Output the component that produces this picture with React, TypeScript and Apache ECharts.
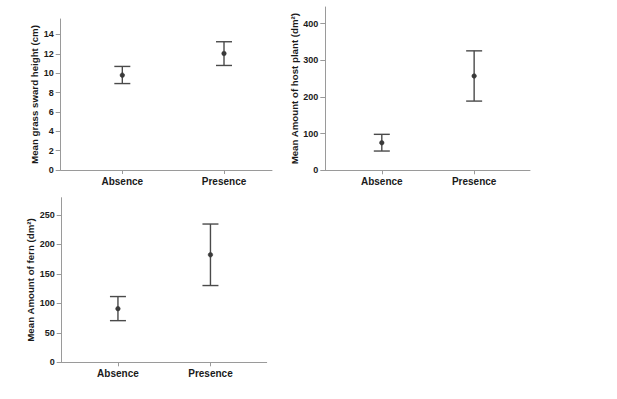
import React, { useEffect, useRef } from "react";
import * as echarts from "echarts";

const categories = ["Absence", "Presence"];

// Panel 1: grass sward height (cm)
const grassMean = [9.8, 12.04];
const grassLow = [8.93, 10.8];
const grassHigh = [10.7, 13.25];
const grassTicks = [0, 2, 4, 6, 8, 10, 12, 14];

// Panel 2: host plant (dm²)
const hostMean = [75, 257];
const hostLow = [52.5, 188.6];
const hostHigh = [98, 325.5];
const hostTicks = [0, 100, 200, 300, 400];

// Panel 3: fern (dm²)
const fernMean = [91, 182.5];
const fernLow = [70.7, 130.3];
const fernHigh = [111.6, 234.7];
const fernTicks = [0, 50, 100, 150, 200, 250];

const FONT = "'Liberation Sans', Arial, sans-serif";
const TEXT = "#1a1a1a";
const AXIS = "#9a9a9a";
const BAR = "#4a4a4a";

export default function App() {
  const ref = useRef<HTMLDivElement>(null);

  useEffect(() => {
    if (!ref.current) return;
    const chart = echarts.init(ref.current, undefined, { renderer: "svg" });

    const panels = [
      { grid: { left: 60.7, top: 19, width: 211.3, height: 151 }, xMin: 0.394, xMax: 2.472, yMax: 15.6, ticks: grassTicks, name: "Mean grass sward height (cm)", nameGap: 20, mean: grassMean, low: grassLow, high: grassHigh },
      { grid: { left: 325.3, top: 7, width: 204.7, height: 163.3 }, xMin: 0.388, xMax: 2.605, yMax: 445, ticks: hostTicks, name: "Mean Amount of host plant (dm²)", nameGap: 23, mean: hostMean, low: hostLow, high: hostHigh },
      { grid: { left: 61.7, top: 197.7, width: 205, height: 164.6 }, xMin: 0.392, xMax: 2.608, yMax: 279.4, ticks: fernTicks, name: "Mean Amount of fern (dm²)", nameGap: 22.5, mean: fernMean, low: fernLow, high: fernHigh },
    ];

    const catPos = categories.map((_, i) => i + 1);

    const grids: any[] = [];
    const xAxes: any[] = [];
    const yAxes: any[] = [];
    const series: any[] = [];

    panels.forEach((p, idx) => {
      grids.push({ ...p.grid, containLabel: false });
      xAxes.push({
        type: "value",
        gridIndex: idx,
        min: p.xMin,
        max: p.xMax,
        axisLine: { show: true, lineStyle: { color: AXIS, width: 1 } },
        axisTick: { show: true, length: 4, customValues: catPos, lineStyle: { color: AXIS } },
        splitLine: { show: false },
        axisLabel: {
          customValues: catPos,
          formatter: (v: number) => categories[Math.round(v) - 1] ?? "",
          color: TEXT,
          fontFamily: FONT,
          fontWeight: "bold",
          fontSize: 10,
          margin: 6,
        },
      });
      yAxes.push({
        type: "value",
        gridIndex: idx,
        min: 0,
        max: p.yMax,
        name: p.name,
        nameLocation: "middle",
        nameGap: p.nameGap,
        nameRotate: 90,
        nameTextStyle: { color: TEXT, fontFamily: FONT, fontWeight: "bold", fontSize: 9.7 },
        axisLine: { show: true, lineStyle: { color: AXIS, width: 1 } },
        axisTick: { show: true, length: 5, customValues: p.ticks, lineStyle: { color: AXIS } },
        splitLine: { show: false },
        axisLabel: {
          customValues: p.ticks,
          color: TEXT,
          fontFamily: FONT,
          fontWeight: "bold",
          fontSize: 9,
          margin: 7,
        },
      });
      const data = categories.map((_, i) => [i + 1, p.mean[i], p.low[i], p.high[i]]);
      series.push({
        type: "custom",
        xAxisIndex: idx,
        yAxisIndex: idx,
        data,
        renderItem: (params: any, api: any) => {
          const x = api.value(0);
          const m = api.coord([x, api.value(1)]);
          const lo = api.coord([x, api.value(2)]);
          const hi = api.coord([x, api.value(3)]);
          const hw = 8;
          const ls = { stroke: BAR, lineWidth: 1.4 };
          return {
            type: "group",
            children: [
              { type: "line", shape: { x1: lo[0], y1: lo[1], x2: hi[0], y2: hi[1] }, style: ls },
              { type: "line", shape: { x1: lo[0] - hw, y1: lo[1], x2: lo[0] + hw, y2: lo[1] }, style: ls },
              { type: "line", shape: { x1: hi[0] - hw, y1: hi[1], x2: hi[0] + hw, y2: hi[1] }, style: ls },
              { type: "circle", shape: { cx: m[0], cy: m[1], r: 2.3 }, style: { fill: "#3a3a3a", stroke: "#3a3a3a", lineWidth: 0.5 } },
            ],
          };
        },
      });
    });

    chart.setOption({
      animation: false,
      backgroundColor: "#ffffff",
      grid: grids,
      xAxis: xAxes,
      yAxis: yAxes,
      series,
    });

    return () => chart.dispose();
  }, []);

  return (
    <div
      ref={ref}
      style={{ position: "fixed", left: 0, top: 0, width: 617, height: 399, background: "#fff" }}
    />
  );
}
